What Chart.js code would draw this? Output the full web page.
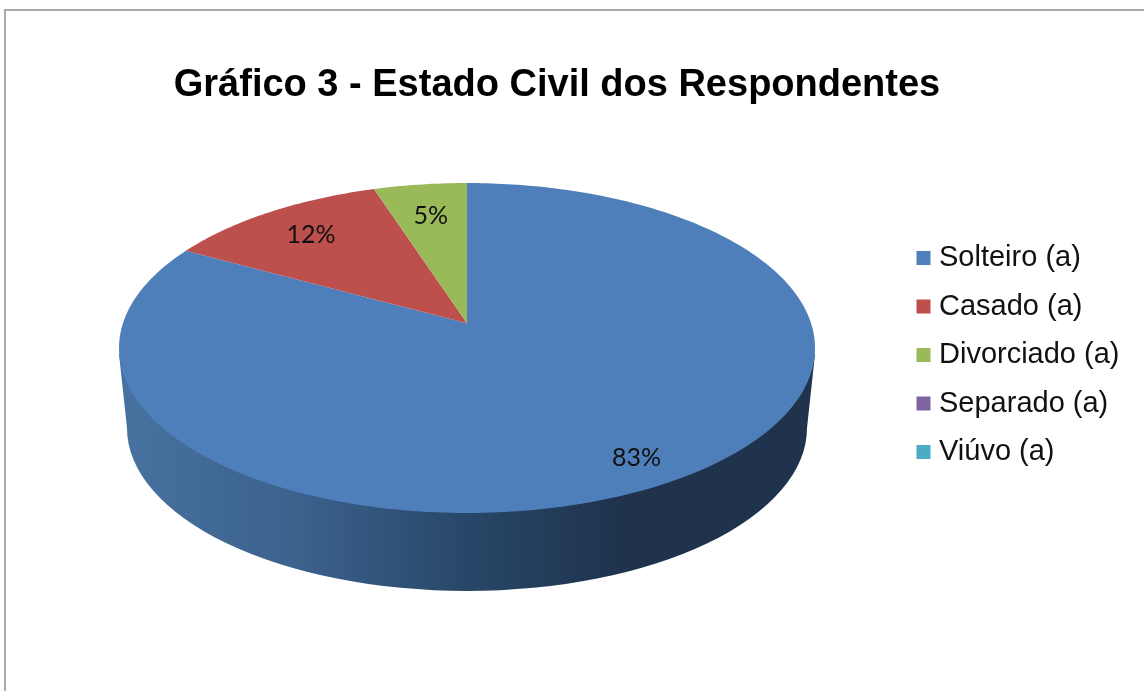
<!DOCTYPE html>
<html>
<head>
<meta charset="utf-8">
<title>Gráfico 3</title>
<script src="https://cdn.jsdelivr.net/npm/chart.js@4/dist/chart.umd.js"></script>
<style>
    html, body { margin: 0; padding: 0; background: #fff; overflow: hidden; }
    #frame { position: absolute; left: 4px; top: 9px; width: 1140px; height: 682px; box-sizing: border-box;
             border-top: 2px solid #a9a9a9; border-left: 2px solid #a9a9a9; }
    #myChart { position: absolute; left: 0; top: 0; filter: blur(0.5px); }
</style>
</head>
<body>
<div id="frame"></div>
<canvas id="myChart" width="1144" height="691"></canvas>
<script>
var categories = ["Solteiro (a)", "Casado (a)", "Divorciado (a)", "Separado (a)", "Viúvo (a)"];
var seriesValues = [83, 12, 5, 0, 0];
var sliceColors = ["#4f7fba", "#bd4f4c", "#9aba59", "#8064a2", "#4bacc6"];
var chartTitle = "Gráfico 3 - Estado Civil dos Respondentes";

// how the flat pie is tilted: height of the ellipse, how far the apex sits behind its centre, thickness
var tilt = { squash: 0.474, apex: -0.15, drop: 80, baseInset: 8 };
var labelRadius = [0.86, 0.775, 0.75, 0, 0];

// perspective of a point in the unit disc, gives a point in the unit disc again
function project(x, y) {
    var d = 1 + tilt.apex * y;
    return { x: x * Math.sqrt(1 - tilt.apex * tilt.apex) / d, y: (y + tilt.apex) / d };
}

function toScreen(arc, x, y) {
    var p = project(x, y);
    return { x: arc.x + p.x * arc.outerRadius, y: arc.y + p.y * arc.outerRadius * tilt.squash };
}

class Pie3dArc extends Chart.ArcElement {
    draw(ctx) {
        if (this.endAngle - this.startAngle <= 0) {
            return;
        }
        var rx = this.outerRadius;
        var ry = rx * tilt.squash;

        // the wall is only visible on the near half, which only the big slice reaches here
        if (this.startAngle < Math.PI / 2 && this.endAngle > Math.PI / 2) {
            var inset = rx - tilt.baseInset;
            var wall = ctx.createLinearGradient(this.x - rx, 0, this.x + rx, 0);
            wall.addColorStop(0, "#47729f");
            wall.addColorStop(0.25, "#3c628e");
            wall.addColorStop(0.5, "#284768");
            wall.addColorStop(0.72, "#1f334d");
            wall.addColorStop(1, "#1f334d");
            ctx.fillStyle = wall;
            ctx.beginPath();
            ctx.moveTo(this.x - rx, this.y + 6);
            ctx.ellipse(this.x, this.y + tilt.drop, inset, ry - 2, 0, Math.PI, 0, true);
            ctx.lineTo(this.x + rx, this.y + 6);
            ctx.closePath();
            ctx.fill();
        }

        ctx.fillStyle = this.options.backgroundColor;
        ctx.beginPath();
        var apex = toScreen(this, 0, 0);
        ctx.moveTo(apex.x, apex.y);
        var steps = Math.ceil((this.endAngle - this.startAngle) * 60);
        for (var i = 0; i <= steps; i++) {
            var a = this.startAngle + (this.endAngle - this.startAngle) * i / steps;
            var p = toScreen(this, Math.cos(a), Math.sin(a));
            ctx.lineTo(p.x, p.y);
        }
        ctx.closePath();
        ctx.fill();
    }
}
Pie3dArc.id = "pie3dArc";

class Pie3dController extends Chart.PieController {}
Pie3dController.id = "pie3d";
Pie3dController.defaults = { dataElementType: "pie3dArc" };

Chart.register(Pie3dArc, Pie3dController);

var placeBoxes = {
    id: "placeBoxes",
    afterLayout: function(chart) {
        // pie, title and legend sit apart in the original, not in the library's stacking
        chart.chartArea = { left: 119, right: 815, top: 0, bottom: 696, width: 696, height: 696 };
        chart.titleBlock.left = 0;
        chart.titleBlock.right = 1114;
        chart.legend.left = 903;
        chart.legend.top = 224;
    }
};

var sliceLabels = {
    id: "sliceLabels",
    afterDatasetsDraw: function(chart) {
        var ctx = chart.ctx;
        ctx.save();
        ctx.font = "25px Lato";
        ctx.fillStyle = "#111";
        ctx.textAlign = "center";
        ctx.textBaseline = "middle";
        chart.getDatasetMeta(0).data.forEach(function(arc, i) {
            if (!seriesValues[i]) {
                return;
            }
            var mid = (arc.startAngle + arc.endAngle) / 2;
            var p = toScreen(arc, Math.cos(mid) * labelRadius[i], Math.sin(mid) * labelRadius[i]);
            ctx.fillText(seriesValues[i] + "%", p.x, p.y);
        });
        ctx.restore();
    }
};

new Chart(document.getElementById("myChart").getContext("2d"), {
    type: "pie3d",
    data: {
        labels: categories,
        datasets: [{
            data: seriesValues,
            backgroundColor: sliceColors,
            borderWidth: 0
        }]
    },
    options: {
        responsive: false,
        animation: false,
        plugins: {
            title: {
                display: true,
                text: chartTitle,
                color: "#000",
                font: { family: "'Liberation Sans'", size: 38, weight: "bold", lineHeight: 1.2 },
                padding: { top: 63, bottom: 0 }
            },
            legend: {
                position: "right",
                align: "start",
                labels: {
                    color: "#111",
                    font: { family: "'Liberation Sans'", size: 29, lineHeight: 1 },
                    usePointStyle: true,
                    pointStyle: "rect",
                    boxWidth: 2,
                    boxHeight: 14,
                    padding: 19.5
                }
            },
            tooltip: { enabled: false }
        }
    },
    plugins: [placeBoxes, sliceLabels]
});
</script>
</body>
</html>
